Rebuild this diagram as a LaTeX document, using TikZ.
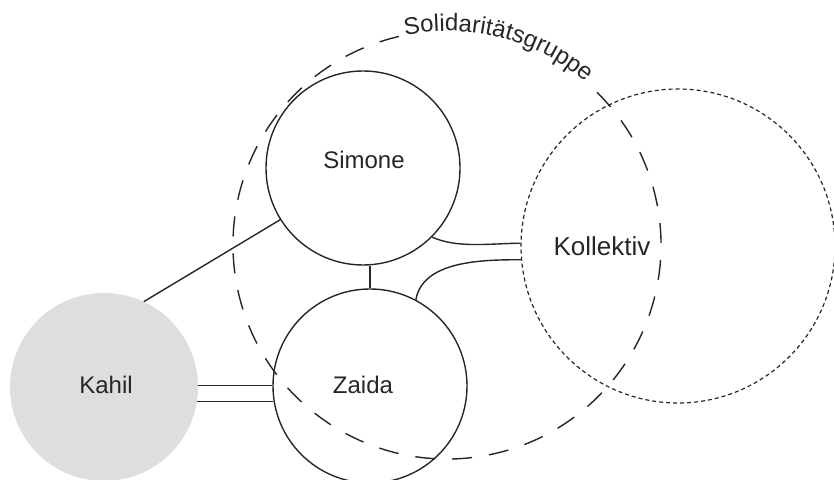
\documentclass[tikz,border=0pt]{standalone}
\usepackage{fontspec}
\setmainfont{Liberation Sans}
\usetikzlibrary{decorations.text}
\begin{document}
\begin{tikzpicture}[x=1pt,y=1pt,
  person/.style={circle, draw=black!85, line width=1.4pt, inner sep=0pt, minimum size=194pt},
  lbl/.style={font=\fontsize{24}{28}\selectfont, text=black!85},
  link/.style={draw=black!85, line width=1.4pt},
  groupline/.style={draw=black!85, line width=1.4pt, dash pattern=on 20pt off 17pt},
  collline/.style={draw=black!85, line width=1.2pt, dash pattern=on 4pt off 3pt}]
\useasboundingbox (0,0) rectangle (834,479);
\coordinate (gc) at (447,234);
% Solidaritaetsgruppe (dashed circle with gap for the text)
\draw[groupline] ([shift={(103:214)}]gc) arc[start angle=103, end angle=407, radius=214];
\path[decorate, decoration={text along path, text color=black!85,
  text={|\fontsize{24}{28}\selectfont|Solidaritätsgruppe}}]
  ([shift={(101.3:214)}]gc) arc[start angle=101.3, end angle=40, radius=214];
% Kollektiv
\node[circle, collline, inner sep=0pt, minimum size=314pt] (kollektiv) at (678,233) {};
\node[lbl, font=\fontsize{26}{30}\selectfont] (kollektivlabel) at (602,233) {Kollektiv};
% persons
\node[person] (simone) at (363,311) {};
\node[lbl] (simonelabel) at (364,319) {Simone};
\node[person] (zaida) at (370,93) {};
\node[lbl] (zaidalabel) at (363,94) {Zaida};
\node[circle, fill=black!13, inner sep=0pt, minimum size=188pt] (kahil) at (104,92) {};
\node[lbl] (kahillabel) at (106,94) {Kahil};
% connectors
\draw[link] (kahil.65) -- (simone.212);
\draw[link] (zaida.north) -- (zaida.north |- simone.south);
\draw[link] (kahil.1) -- (kahil.1 -| zaida.west);
\draw[link] (kahil.-9) -- ([xshift=1pt]kahil.-9 -| zaida.west);
\draw[link] (simone.-45) to[out=-25, in=180, looseness=0.8] (kollektiv.179);
\draw[link] (zaida.62) to[out=80, in=180, looseness=0.9] (kollektiv.185);
\end{tikzpicture}
\end{document}
